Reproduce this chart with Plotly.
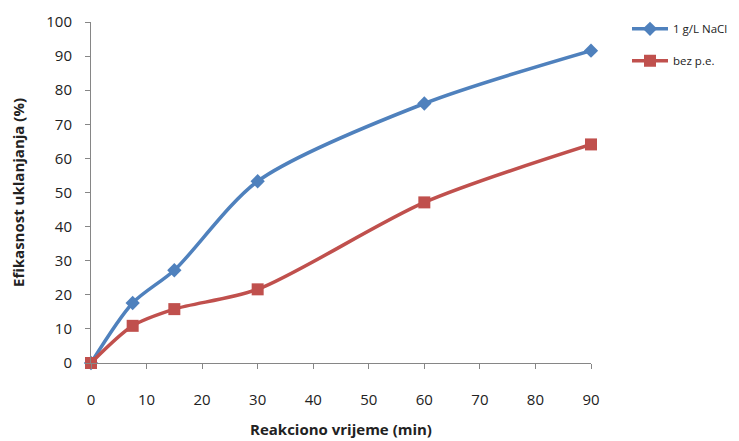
import plotly.graph_objects as go

time_min = [0, 7.5, 15, 30, 60, 90]
nacl_1gL = [0, 17.6, 27.2, 53.3, 76.1, 91.6]
bez_pe = [0, 10.9, 15.8, 21.6, 47.1, 64.1]
x_ticks = [0, 10, 20, 30, 40, 50, 60, 70, 80, 90]
y_ticks = [0, 10, 20, 30, 40, 50, 60, 70, 80, 90, 100]

font_family = "Open Sans, Liberation Sans, sans-serif"

fig = go.Figure()
fig.add_trace(go.Scatter(
    x=time_min, y=nacl_1gL, name="1 g/L NaCl", mode="lines+markers",
    line=dict(color="#4F81BD", width=3.5, shape="spline", smoothing=0.8),
    marker=dict(symbol="diamond", size=11, color="#4F81BD"),
    cliponaxis=False, legend="legend", showlegend=True))
fig.add_trace(go.Scatter(
    x=time_min, y=bez_pe, name="bez p.e.", mode="lines+markers",
    line=dict(color="#C0504D", width=3.5, shape="spline", smoothing=0.8),
    marker=dict(symbol="square", size=12, color="#C0504D"),
    cliponaxis=False, legend="legend2", showlegend=True))

legend_style = dict(xanchor="left", yanchor="middle", itemwidth=36,
                    font=dict(size=11.5, color="#222"),
                    bgcolor="rgba(0,0,0,0)", visible=True)

fig.update_layout(
    width=739, height=441,
    showlegend=True,
    margin=dict(l=83, r=156, t=14, b=86, autoexpand=False),
    paper_bgcolor="white", plot_bgcolor="white",
    font=dict(family=font_family, size=15, color="#222"),
    legend=dict(x=1.072, y=0.98, **legend_style),
    legend2=dict(x=1.072, y=0.886, **legend_style),
    xaxis=dict(range=[0, 90], tickvals=x_ticks, showgrid=False, zeroline=False,
               showline=True, linecolor="#868686", linewidth=1,
               ticks="outside", ticklen=5, tickcolor="#868686",
               ticklabelstandoff=18, automargin=False,
               title=dict(text="<b>Reakciono vrijeme (min)</b>", standoff=16,
                          font=dict(size=15))),
    yaxis=dict(range=[0, 100], tickvals=y_ticks, showgrid=False, zeroline=False,
               showline=True, linecolor="#868686", linewidth=1,
               ticks="outside", ticklen=5, tickcolor="#868686",
               ticklabelstandoff=10, automargin=False,
               title=dict(text="<b>Efikasnost uklanjanja (%)</b>", standoff=19,
                          font=dict(size=15))),
)

fig.write_html("out.html")
